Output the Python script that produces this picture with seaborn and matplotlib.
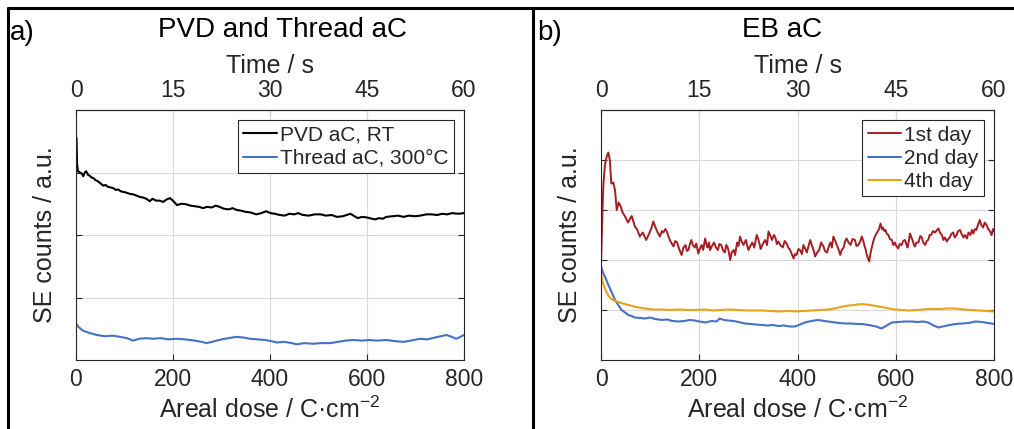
import matplotlib
matplotlib.use("Agg")
import matplotlib.pyplot as plt
from matplotlib.lines import Line2D
import seaborn as sns

# panel a) PVD and Thread aC
dose_pvd = [0, 0.5, 2, 4, 8, 12, 15, 18, 21, 25, 28, 32, 36, 40, 45, 50, 56, 61, 66, 72,
            77, 82, 87, 92, 97, 103, 110, 118, 125, 131, 138, 145, 152, 158, 165, 172, 180,
            187, 194, 201, 208, 218, 228, 236, 245, 254, 262, 270, 280, 288, 296, 305, 315,
            323, 331, 340, 350, 360, 372, 382, 392, 401, 410, 420, 430, 440, 450, 458, 468,
            480, 492, 505, 515, 527, 538, 550, 558, 566, 574, 581, 590, 600, 610, 617, 625,
            632, 640, 652, 664, 675, 687, 698, 710, 722, 733, 745, 755, 765, 775, 788, 800]
se_pvd = [3.05, 3.56, 3.15, 3.02, 3.0, 2.98, 2.94, 3.0, 3.02, 2.96, 2.95, 2.92, 2.91, 2.88,
          2.86, 2.83, 2.79, 2.8, 2.77, 2.76, 2.75, 2.72, 2.73, 2.70, 2.69, 2.68, 2.66, 2.65,
          2.63, 2.61, 2.6, 2.58, 2.54, 2.58, 2.55, 2.55, 2.53, 2.57, 2.59, 2.54, 2.48, 2.5,
          2.49, 2.47, 2.46, 2.45, 2.43, 2.45, 2.44, 2.47, 2.45, 2.42, 2.41, 2.43, 2.40, 2.39,
          2.37, 2.36, 2.33, 2.35, 2.38, 2.35, 2.34, 2.32, 2.31, 2.34, 2.33, 2.35, 2.32, 2.31,
          2.33, 2.33, 2.31, 2.32, 2.29, 2.30, 2.32, 2.34, 2.30, 2.27, 2.29, 2.28, 2.26, 2.25,
          2.27, 2.26, 2.29, 2.30, 2.31, 2.29, 2.31, 2.30, 2.31, 2.33, 2.33, 2.32, 2.34, 2.33,
          2.35, 2.34, 2.35]

dose_thread = [0, 5, 14, 25, 43, 60, 75, 91, 105, 118, 130, 145, 159, 175, 190, 208, 225,
               245, 260, 269, 285, 300, 315, 331, 345, 359, 375, 390, 404, 414, 430, 445, 455,
               470, 490, 505, 524, 540, 555, 572, 590, 605, 620, 640, 660, 675, 690, 710, 725,
               740, 764, 775, 784, 795, 800]
se_thread = [0.58, 0.53, 0.47, 0.44, 0.40, 0.38, 0.39, 0.37, 0.35, 0.31, 0.34, 0.35, 0.34,
             0.35, 0.33, 0.34, 0.33, 0.31, 0.29, 0.27, 0.3, 0.33, 0.35, 0.37, 0.36, 0.34,
             0.33, 0.32, 0.3, 0.28, 0.29, 0.27, 0.25, 0.27, 0.26, 0.27, 0.27, 0.29, 0.31,
             0.32, 0.31, 0.32, 0.31, 0.32, 0.3, 0.29, 0.31, 0.34, 0.33, 0.36, 0.4, 0.37, 0.34,
             0.38, 0.40]

# panel b) EB aC
dose_day1 = [0, 3, 5, 8, 11.6, 15, 18, 21, 25, 28.5, 32, 36, 39, 44, 49, 55, 62.5, 69, 74, 79,
             85, 92, 99, 103, 106.5, 110, 113, 117, 120, 124, 127, 131, 134, 137, 140, 144,
             147.5, 151, 155, 159, 164, 168, 172, 175, 178, 181, 184, 187, 191, 194, 198, 201,
             205, 208, 212, 215, 217, 220, 222, 226, 230, 234, 238, 241, 245, 248, 252, 255,
             258, 261, 263, 266, 270, 273, 277, 280, 283, 286, 290, 295, 300, 304, 308, 312,
             317, 320, 322, 325, 327, 331, 334, 338, 341, 345, 348, 352, 355, 358, 361, 365,
             370, 374, 378, 381, 385, 389, 392, 395, 398, 402, 405, 409, 412, 416, 419, 423,
             426, 429, 431, 434, 436, 440, 444, 448, 453, 456, 460, 464, 467, 470, 473, 477,
             480, 484, 487, 490, 494, 497, 500, 504, 508, 512, 517, 520, 524, 528, 531, 534,
             536, 539, 541, 544, 546, 548, 550, 553, 555, 558, 562, 566, 569, 572, 574, 577,
             579, 582, 585, 588, 592, 595, 598, 601, 605, 608, 612, 615, 619, 622, 624, 627,
             629, 632, 634, 637, 639, 642, 646, 650, 653, 656, 660, 663, 666, 669, 672, 676,
             680, 684, 687, 690, 694, 697, 700, 704, 707, 710, 713, 717, 720, 724, 727, 731,
             734, 738, 741, 745, 748, 752, 755, 758, 761, 764, 768, 771, 774, 778, 781, 785,
             788, 790, 793, 795, 798, 800]
se_day1 = [1.9, 3.0, 3.53, 3.9, 4.07, 4.15, 4.0, 3.53, 3.55, 3.4, 3.0, 3.15, 3.1, 2.95, 2.87,
           2.75, 2.88, 2.67, 2.6, 2.47, 2.55, 2.4, 2.55, 2.65, 2.77, 2.68, 2.6, 2.52, 2.47,
           2.58, 2.55, 2.62, 2.57, 2.48, 2.4, 2.33, 2.27, 2.38, 2.35, 2.22, 2.1, 2.25, 2.3,
           2.18, 2.2, 2.32, 2.4, 2.3, 2.25, 2.33, 2.13, 2.22, 2.3, 2.2, 2.43, 2.3, 2.25, 2.35,
           2.2, 2.28, 2.35, 2.25, 2.2, 2.32, 2.3, 2.2, 2.15, 2.3, 2.25, 2.12, 2.0, 2.15, 2.2,
           2.1, 2.35, 2.28, 2.47, 2.38, 2.3, 2.4, 2.2, 2.28, 2.35, 2.25, 2.5, 2.42, 2.35,
           2.22, 2.27, 2.35, 2.4, 2.3, 2.57, 2.48, 2.4, 2.5, 2.45, 2.32, 2.37, 2.3, 2.25,
           2.38, 2.33, 2.25, 2.2, 2.1, 2.03, 2.12, 2.1, 2.22, 2.2, 2.12, 2.3, 2.22, 2.15, 2.3,
           2.4, 2.3, 2.25, 2.15, 2.07, 2.15, 2.2, 2.35, 2.27, 2.18, 2.15, 2.28, 2.35, 2.25,
           2.47, 2.38, 2.3, 2.2, 2.1, 2.2, 2.25, 2.38, 2.43, 2.35, 2.3, 2.42, 2.4, 2.28, 2.3,
           2.38, 2.47, 2.38, 2.3, 2.2, 2.1, 2.02, 1.97, 2.1, 2.2, 2.32, 2.4, 2.48, 2.55, 2.62,
           2.73, 2.62, 2.65, 2.58, 2.6, 2.52, 2.5, 2.42, 2.4, 2.3, 2.35, 2.28, 2.23, 2.32,
           2.3, 2.38, 2.4, 2.3, 2.25, 2.4, 2.53, 2.45, 2.4, 2.3, 2.27, 2.35, 2.35, 2.48, 2.45,
           2.35, 2.3, 2.38, 2.4, 2.5, 2.5, 2.58, 2.55, 2.6, 2.63, 2.55, 2.5, 2.4, 2.45, 2.37,
           2.42, 2.45, 2.52, 2.55, 2.45, 2.5, 2.58, 2.6, 2.52, 2.45, 2.5, 2.43, 2.55, 2.5,
           2.6, 2.53, 2.62, 2.6, 2.72, 2.8, 2.7, 2.65, 2.75, 2.7, 2.62, 2.6, 2.55, 2.5, 2.62,
           2.57]

dose_day2 = [0, 5, 10, 15, 22, 28.5, 35, 42, 49, 55.6, 62, 69, 80, 89.6, 100, 110, 123.5, 135,
             145, 157, 170, 180, 191, 200, 212, 225, 235, 242, 250, 259, 270, 280, 293, 305,
             315, 327, 340, 350, 361, 372, 385, 395, 405, 415, 428, 442, 455, 470, 485, 497,
             510, 520, 531, 545, 560, 571, 580, 592, 605, 620, 632, 645, 656, 666, 677, 687,
             700, 710, 721, 735, 748, 762, 775, 788, 800]
se_day2 = [1.87, 1.73, 1.62, 1.5, 1.35, 1.2, 1.1, 1.0, 0.95, 0.9, 0.88, 0.85, 0.84, 0.83,
           0.85, 0.82, 0.8, 0.81, 0.78, 0.77, 0.78, 0.8, 0.79, 0.77, 0.75, 0.78, 0.77, 0.83,
           0.8, 0.79, 0.78, 0.76, 0.73, 0.72, 0.71, 0.7, 0.69, 0.7, 0.68, 0.69, 0.67, 0.67,
           0.71, 0.75, 0.78, 0.8, 0.78, 0.76, 0.74, 0.73, 0.73, 0.72, 0.72, 0.7, 0.67, 0.63,
           0.68, 0.75, 0.76, 0.77, 0.77, 0.76, 0.77, 0.75, 0.69, 0.65, 0.68, 0.7, 0.72, 0.73,
           0.74, 0.77, 0.76, 0.74, 0.72]

dose_day4 = [0, 3, 9, 16, 24, 32, 44, 56, 70, 90, 105, 123, 140, 160, 175, 191, 210, 230, 259,
             280, 300, 327, 345, 361, 380, 395, 412, 429, 445, 463, 480, 497, 515, 531, 548,
             565, 582, 599, 612, 626, 645, 666, 690, 705, 721, 738, 755, 770, 785, 800]
se_day4 = [1.73, 1.57, 1.4, 1.27, 1.2, 1.17, 1.13, 1.1, 1.06, 1.03, 1.01, 1.01, 1.0, 1.01,
           1.0, 1.0, 1.01, 0.99, 1.01, 1.0, 0.99, 0.99, 0.98, 0.97, 0.98, 0.97, 0.98, 0.99,
           1.0, 1.01, 1.04, 1.08, 1.1, 1.12, 1.1, 1.07, 1.04, 1.01, 1.0, 0.99, 1.0, 1.02,
           1.02, 1.03, 1.03, 1.01, 1.0, 0.99, 0.98, 0.97]

dose_ticks = [0, 200, 400, 600, 800]
time_ticks = [0, 15, 30, 45, 60]

sns.set_theme(style="white")
plt.rcParams["font.family"] = ["Liberation Sans", "DejaVu Sans"]
plt.rcParams["mathtext.default"] = "regular"

TXT = "#262626"
fig = plt.figure(figsize=(10.14, 4.29), dpi=100)
W, H = 1014, 429


def px_axes(l, t, r, b):
    return fig.add_axes([l / W, 1 - b / H, (r - l) / W, (b - t) / H])


def style_axes(ax, ymax, yticks):
    ax.set_xlim(0, 800)
    ax.set_ylim(0, ymax)
    ax.set_xticks(dose_ticks)
    ax.set_yticks(yticks)
    ax.set_yticklabels([])
    ax.grid(True, color="#d9d9d9", linewidth=0.8)
    for sp in ax.spines.values():
        sp.set_color(TXT)
        sp.set_linewidth(0.8)
    ax.tick_params(axis="x", direction="in", length=4, labelsize=16.5,
                   colors=TXT, pad=6, top=False, bottom=True, width=0.8)
    ax.tick_params(axis="y", direction="in", length=4, left=True, right=True, width=0.8,
                   colors=TXT)
    ax.set_xlabel("Areal dose / C·cm$^{-2}$", fontsize=18, color=TXT, labelpad=4)
    ax.set_ylabel("SE counts / a.u.", fontsize=18, color=TXT, labelpad=10)
    sec = ax.secondary_xaxis("top", functions=(lambda d: d * 60 / 800,
                                               lambda t: t * 800 / 60))
    sec.set_xticks(time_ticks)
    sec.tick_params(direction="in", length=4, labelsize=16.5, colors=TXT, pad=6, width=0.8)
    sec.spines["top"].set_color(TXT)
    sec.spines["top"].set_linewidth(0.8)
    sec.set_xlabel("Time / s", fontsize=18, color=TXT, labelpad=4)
    return ax


ax1 = px_axes(76, 110, 464, 360)
sns.lineplot(x=dose_pvd, y=se_pvd, ax=ax1, color="black", linewidth=1.5, label="PVD aC, RT")
sns.lineplot(x=dose_thread, y=se_thread, ax=ax1, color="#4472C4", linewidth=1.5,
             label="Thread aC, 300°C")
style_axes(ax1, 4, [1, 2, 3])

ax2 = px_axes(601, 110, 994, 360)
sns.lineplot(x=dose_day1, y=se_day1, ax=ax2, color="#A51E24", linewidth=1.4, label="1st day")
sns.lineplot(x=dose_day2, y=se_day2, ax=ax2, color="#4472C4", linewidth=1.5, label="2nd day")
sns.lineplot(x=dose_day4, y=se_day4, ax=ax2, color="#E8A317", linewidth=1.5, label="4th day")
style_axes(ax2, 5, [1, 2, 3, 4])

for ax in (ax1, ax2):
    leg = ax.legend(loc="upper right", fontsize=15, frameon=True, fancybox=False,
                    framealpha=1, edgecolor=TXT, handlelength=1.6, handletextpad=0.15,
                    labelspacing=0.2, borderpad=0.25, borderaxespad=0.5)
    leg.get_frame().set_linewidth(0.8)

fig.text(283 / W, 1 - 30 / H, "PVD and Thread aC", ha="center", va="center", fontsize=20,
         color="black")
fig.text(782 / W, 1 - 30 / H, "EB aC", ha="center", va="center", fontsize=20, color="black")
fig.text(10 / W, 1 - 33 / H, "a)", ha="left", va="center", fontsize=20, color="black")
fig.text(537 / W, 1 - 33 / H, "b)", ha="left", va="center", fontsize=20, color="black")

# frame lines around the panels
yt = 1 - 8 / H
fig.add_artist(Line2D([8 / W, 1], [yt, yt], transform=fig.transFigure, color="black", lw=2.2))
fig.add_artist(Line2D([8 / W, 8 / W], [0, yt], transform=fig.transFigure, color="black", lw=2.2))
fig.add_artist(Line2D([533 / W, 533 / W], [0, yt], transform=fig.transFigure, color="black",
                      lw=2.2))

fig.savefig("out.png", dpi=100, facecolor="white")
